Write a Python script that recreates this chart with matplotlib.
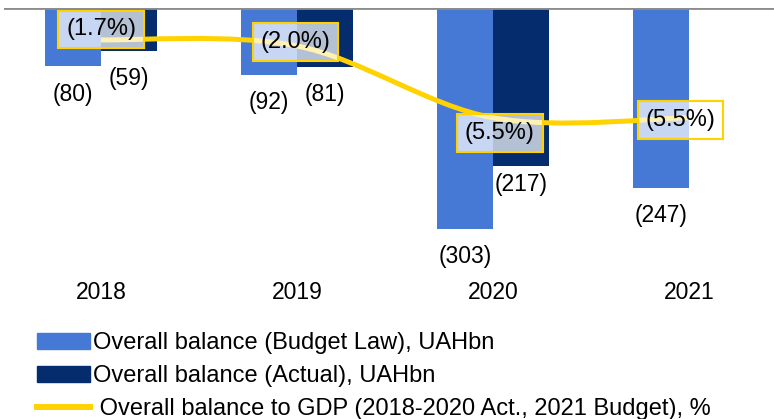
import numpy as np
import matplotlib
matplotlib.use('Agg')
import matplotlib.pyplot as plt
from matplotlib.path import Path
from matplotlib.patches import PathPatch, Patch
from matplotlib.lines import Line2D

plt.rcParams['font.family'] = ['Liberation Sans', 'DejaVu Sans']

years = ['2018', '2019', '2020', '2021']
budget_law = [-80, -92, -303, -247]
actual = [-59, -81, -217, None]
gdp_pct = [-1.7, -2.0, -5.5, -5.5]

# label offsets (points) for the % boxes
pct_offsets = [(0, 7.5), (-1, 3), (5, -11), (-6, -1.5)]

c_budget = '#4579D5'
c_actual = '#052D6E'
c_line = '#FFD200'

fig = plt.figure(figsize=(7.74, 4.19), dpi=100)
ax = fig.add_axes([4/774, (419-270)/419, 770/774, 262/419])
ax2 = ax.twinx()

x = np.arange(len(years))
w = 0.286

ax.bar(x - w/2, budget_law, w, color=c_budget, zorder=2)
act_x = [xi + w/2 for xi, v in zip(x, actual) if v is not None]
act_v = [v for v in actual if v is not None]
ax.bar(act_x, act_v, w, color=c_actual, zorder=2)

ax.axhline(0, color='#8c8c8c', lw=2, zorder=3)

for xi, v in zip(x, budget_law):
    ax.annotate('(%d)' % abs(v), (xi - w/2, v), xytext=(0, -20), textcoords='offset points',
                ha='center', va='center', fontsize=16.5)
for xi, v in zip(act_x, act_v):
    dy = -13.5 if v == -217 else -19.5
    ax.annotate('(%d)' % abs(v), (xi, v), xytext=(0, dy), textcoords='offset points',
                ha='center', va='center', fontsize=16.5)

ax.set_xlim(-0.495, 3.434)
ax.set_ylim(-360, 0)
ax2.set_ylim(-12.93, -0.146)

# smoothed line (bezier through the data points)
pts = list(zip(x, gdp_pct))
verts = [pts[0]]
codes = [Path.MOVETO]
for i in range(len(pts) - 1):
    p0 = np.array(pts[i - 1] if i > 0 else pts[i], float)
    p1 = np.array(pts[i], float)
    p2 = np.array(pts[i + 1], float)
    p3 = np.array(pts[i + 2] if i + 2 < len(pts) else pts[i + 1], float)
    c1 = p1 + (p2 - p0) / 6
    c2 = p2 - (p3 - p1) / 6
    verts += [tuple(c1), tuple(c2), tuple(p2)]
    codes += [Path.CURVE4] * 3
ax2.add_patch(PathPatch(Path(verts, codes), fill=False, edgecolor=c_line, lw=3.6,
                        capstyle='butt', zorder=4))

for xi, v, off in zip(x, gdp_pct, pct_offsets):
    ax2.annotate('(%.1f%%)' % abs(v), (xi, v), xytext=off, textcoords='offset points',
                 ha='center', va='center', fontsize=17, zorder=5,
                 bbox=dict(boxstyle='square,pad=0.33', fc=(1, 1, 1, 0.7), ec=c_line, lw=1.5))

for a in (ax, ax2):
    for s in a.spines.values():
        s.set_visible(False)
ax2.set_yticks([])
ax.set_yticks([])
ax.set_xticks(x)
ax.set_xticklabels(years, fontsize=16.5)
ax.tick_params(axis='x', length=0, pad=8)

handles = [Patch(color=c_budget), Patch(color=c_actual),
           Line2D([], [], color=c_line, lw=4.3)]
labels = ['Overall balance (Budget Law), UAHbn', 'Overall balance (Actual), UAHbn',
          ' Overall balance to GDP (2018-2020 Act., 2021 Budget), %']
fig.legend(handles, labels, loc='upper left', bbox_to_anchor=(37/774, 1 - 332/419),
           frameon=False, fontsize=17, handlelength=2.25, handleheight=0.64,
           handletextpad=0.13, labelspacing=0.47, borderpad=0, borderaxespad=0)

fig.savefig('out.png', dpi=100)
